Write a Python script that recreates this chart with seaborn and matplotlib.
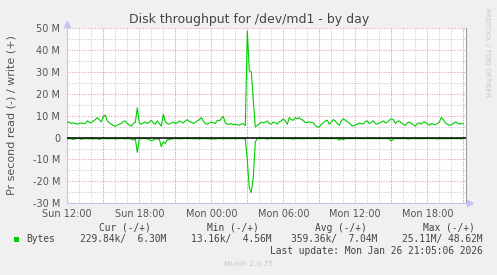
import numpy as np
import pandas as pd
import matplotlib
matplotlib.use("Agg")
import matplotlib.pyplot as plt
import matplotlib.dates as mdates
from matplotlib.patches import Rectangle
import seaborn as sns

# ---------------- data ----------------
start_time = "2026-01-25 12:00"
step = "10min"

write_mb = [
    7.1, 7.0, 6.4, 6.7, 6.4, 6.1, 6.5, 6.7, 6.4, 6.4,
    7.6, 7.0, 6.7, 7.6, 8.2, 9.1, 8.2, 7.1, 9.7, 10.2,
    7.6, 6.7, 6.1, 5.5, 5.2, 5.6, 6.1, 6.4, 7.3, 7.6,
    6.4, 5.8, 5.2, 6.4, 7.0, 13.6, 6.7, 6.1, 6.7, 7.1,
    6.4, 7.0, 7.9, 6.7, 6.1, 7.6, 6.4, 5.2, 10.6, 7.1,
    6.4, 6.1, 6.7, 7.1, 6.4, 6.7, 7.6, 7.1, 6.7, 7.6,
    8.2, 7.3, 7.0, 6.4, 7.0, 7.6, 8.2, 9.1, 7.6, 6.4,
    6.1, 6.7, 7.1, 6.7, 6.4, 7.9, 7.6, 8.6, 9.7, 6.7,
    6.1, 6.1, 6.4, 5.8, 6.1, 5.8, 5.6, 6.1, 6.4, 5.5,
    48.6, 30.5, 30.0, 17.0, 4.8, 5.6, 6.1, 7.1, 6.7, 7.0,
    7.6, 6.4, 6.1, 7.1, 6.7, 6.1, 7.3, 7.6, 8.6, 7.6,
    6.1, 9.1, 8.2, 7.9, 9.1, 8.6, 9.1, 8.2, 7.9, 6.7,
    7.0, 7.1, 7.0, 6.7, 5.5, 4.8, 4.8, 6.1, 6.7, 7.6,
    7.9, 6.1, 7.0, 8.2, 7.6, 6.4, 5.6, 7.6, 8.6, 7.9,
    7.3, 6.7, 5.6, 5.2, 5.8, 6.1, 6.7, 6.4, 6.1, 7.3,
    7.6, 6.4, 7.0, 7.6, 6.4, 6.1, 6.7, 7.1, 7.6, 6.7,
    7.0, 7.9, 8.6, 8.2, 6.4, 7.3, 7.6, 6.7, 6.1, 5.6,
    6.7, 7.1, 6.4, 5.8, 5.2, 6.4, 6.7, 6.1, 7.0, 7.1,
    6.1, 5.6, 6.4, 6.1, 5.8, 6.4, 7.0, 9.1, 8.2, 6.7,
    6.1, 5.6, 5.8, 6.4, 7.1, 6.7, 6.1, 6.4, 6.3,
]

read_mb = [
    0.5, 0.5, 0.6, 0.9, 0.5, 0.4, 0.5, 0.8, 0.5, 0.5,
    0.5, 0.6, 0.5, 0.7, 0.5, 0.5, 0.9, 0.5, 0.4, 0.5,
    0.6, 0.5, 0.5, 0.5, 0.7, 0.5, 0.5, 0.4, 0.5, 0.6,
    0.5, 0.5, 0.6, 1.2, 0.6, 6.7, 0.6, 0.5, 0.5, 0.5,
    0.6, 0.9, 1.5, 1.2, 0.6, 0.6, 0.7, 4.2, 2.0, 2.7,
    0.9, 1.0, 0.6, 0.5, 0.5, 0.5, 0.6, 0.5, 0.5, 0.4,
    0.5, 0.5, 0.5, 0.6, 0.5, 0.5, 0.7, 0.5, 0.5, 0.5,
    0.5, 0.6, 0.7, 0.6, 0.7, 0.5, 0.5, 0.5, 0.6, 0.5,
    0.5, 0.5, 0.5, 0.5, 0.6, 0.5, 0.5, 0.5, 0.5, 0.6,
    10.5, 23.0, 25.1, 18.0, 2.0, 0.5, 0.5, 0.5, 0.4, 0.5,
    0.7, 0.5, 0.5, 0.5, 0.5, 0.5, 0.5, 0.5, 0.5, 0.5,
    0.5, 0.5, 0.5, 0.7, 0.5, 0.5, 0.5, 0.5, 0.6, 0.5,
    0.5, 0.5, 0.5, 0.5, 0.5, 0.5, 0.5, 0.5, 0.5, 0.5,
    0.5, 0.5, 0.5, 0.5, 0.5, 0.5, 1.2, 0.5, 1.0, 0.5,
    0.5, 0.5, 0.5, 0.5, 0.5, 0.5, 0.5, 0.5, 0.5, 0.5,
    0.5, 0.5, 0.5, 0.5, 0.5, 0.5, 0.5, 0.5, 0.5, 0.5,
    0.5, 0.6, 1.6, 0.6, 0.5, 0.5, 0.5, 0.5, 0.5, 0.5,
    0.6, 0.6, 0.5, 0.5, 0.5, 0.5, 0.5, 0.6, 0.5, 0.5,
    0.5, 0.5, 0.5, 0.5, 0.5, 0.6, 0.6, 0.5, 0.5, 0.5,
    0.5, 0.5, 0.5, 0.5, 0.5, 0.5, 0.5, 0.6, 0.5,
]

y_ticks = [-30, -20, -10, 0, 10, 20, 30, 40, 50]
y_tick_labels = ["-30 M", "-20 M", "-10 M", "0", "10 M", "20 M", "30 M", "40 M", "50 M"]

title = "Disk throughput for /dev/md1 - by day"
y_label = "Pr second read (-) / write (+)"
legend_name = "Bytes"
legend_headers = ["Cur (-/+)", "Min (-/+)", "Avg (-/+)", "Max (-/+)"]
legend_values = ["229.84k/  6.30M", "13.16k/  4.56M", "359.36k/  7.04M", "25.11M/ 48.62M"]
last_update = "Last update: Mon Jan 26 21:05:06 2026"
munin_version = "Munin 2.0.75"
rrd_credit = "RRDTOOL / TOBI OETIKER"

# ---------------- frame ----------------
times = pd.date_range(start=start_time, periods=len(write_mb), freq=step)
df = pd.DataFrame({"time": times,
                   "write": write_mb,
                   "read": [-v for v in read_mb]})

sns.set_style("white")
plt.rcParams["font.family"] = ["DejaVu Sans"]

W, H = 497, 275
fig = plt.figure(figsize=(W / 100, H / 100), dpi=100, facecolor="#f0f0f0")
ax_l, ax_r, ax_t, ax_b = 67.3, 465.5, 28.0, 203.3
ax = fig.add_axes([ax_l / W, 1 - ax_b / H, (ax_r - ax_l) / W, (ax_b - ax_t) / H])
ax.set_facecolor("white")

green = "#00cc00"
sns.lineplot(data=df, x="time", y="write", ax=ax, color=green, linewidth=0.8, zorder=4)
sns.lineplot(data=df, x="time", y="read", ax=ax, color=green, linewidth=0.8, zorder=4)
ax.axhline(0, color="black", linewidth=1.1, zorder=5)

t0 = pd.Timestamp(start_time)
t_end = t0 + pd.Timedelta(hours=(ax_r - ax_l) / 12.0)
ax.set_xlim(t0, t_end)
ax.set_ylim(-30, 50)

# grids
minor_grey = "#cfcfcf"
major_red = "#e4a8a8"
dot = (0, (1, 1.2))
ax.set_yticks(y_ticks)
ax.set_yticklabels(y_tick_labels)
ax.set_yticks(np.arange(-25, 50, 10), minor=True)
ax.grid(False)
ax.grid(which="minor", axis="y", color=minor_grey, linestyle=dot, linewidth=0.75, zorder=1)
ax.grid(which="major", axis="y", color=major_red, linestyle=dot, linewidth=0.75, zorder=1)

ax.xaxis.set_major_locator(mdates.HourLocator(byhour=[0, 6, 12, 18]))
ax.xaxis.set_major_formatter(mdates.DateFormatter("%a %H:%M"))
ax.xaxis.set_minor_locator(mdates.HourLocator(interval=1))
ax.grid(which="minor", axis="x", color=minor_grey, linestyle=dot, linewidth=0.75, zorder=1)
for t in pd.date_range(t0, t_end, freq="3h"):
    ax.axvline(t, color=major_red, linestyle=dot, linewidth=0.75, zorder=1.5)

ax.tick_params(axis="both", which="both", length=0, labelsize=7, labelcolor="#555555")
ax.tick_params(axis="y", pad=5)
ax.tick_params(axis="x", pad=4.2)
ax.set_xlabel("")
ax.set_ylabel("")

ax.spines["top"].set_visible(False)
ax.spines["left"].set_color("#c4c4f4")
ax.spines["bottom"].set_color("#c4c4f4")
ax.spines["right"].set_color("#9a9a9a")
for s in ["left", "bottom", "right"]:
    ax.spines[s].set_linewidth(0.8)

ax.plot([0], [1.025], marker="^", color="#c4c4f4", markersize=4, transform=ax.transAxes, clip_on=False)
ax.plot([1.012], [0], marker=">", color="#c4c4f4", markersize=4, transform=ax.transAxes, clip_on=False)

# ---------------- texts ----------------
def fx(px):
    return px / W

def fy(py):
    return 1 - py / H

fig.text(fx(248.7), fy(19.5), title, ha="center", va="center", fontsize=9.0, color="#444444")
fig.text(fx(12), fy(115), y_label, ha="center", va="center", rotation=90, fontsize=8.0, color="#555555")
fig.text(fx(487), fy(8), rrd_credit, ha="center", va="top", rotation=270, fontsize=5.0, color="#c8c8c8")

mono = "DejaVu Sans Mono"
hdr_x = [98.7, 206.7, 315.0, 422.7]
for x, h in zip(hdr_x, legend_headers):
    fig.text(fx(x), fy(227.7), h, ha="left", va="center", fontsize=6.9, family=mono, color="#444444")

fig.patches.append(Rectangle((fx(14), fy(242)), fx(5.3), 5.3 / H, transform=fig.transFigure,
                             facecolor=green, edgecolor="none"))
fig.text(fx(26.7), fy(239.3), legend_name, ha="left", va="center", fontsize=6.9, family=mono, color="#444444")
val_x = [166.7, 271.7, 377.0, 482.7]
for x, v in zip(val_x, legend_values):
    fig.text(fx(x), fy(239.3), v, ha="right", va="center", fontsize=6.9, family=mono, color="#444444")

fig.text(fx(482.7), fy(251), last_update, ha="right", va="center", fontsize=6.9, family=mono, color="#444444")
fig.text(fx(248), fy(264), munin_version, ha="center", va="center", fontsize=5.4, color="#c8c8c8")

fig.savefig("out.png", dpi=100, facecolor=fig.get_facecolor())
